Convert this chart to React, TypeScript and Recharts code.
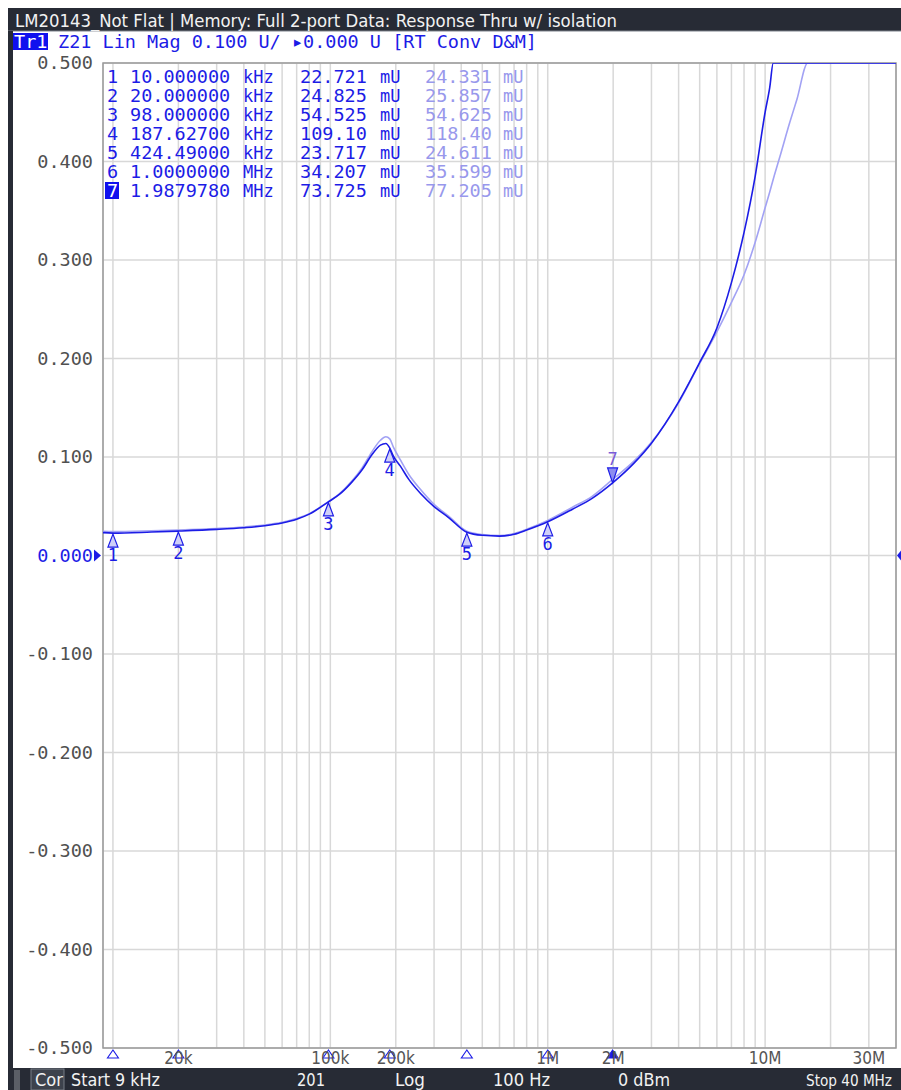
import React from "react";
import {
  ComposedChart, Line, XAxis, YAxis, CartesianGrid, ReferenceDot, ReferenceArea
} from "recharts";

// sweep points (Hz / U)
const freqHz = [
  9e3, 10e3, 15e3, 20e3, 30e3, 40e3, 50e3, 60e3, 70e3, 80e3,
  98e3, 110e3, 125e3, 140e3, 155e3, 170e3, 180e3, 187.627e3, 195e3, 210e3,
  230e3, 260e3, 300e3, 350e3, 424.49e3, 500e3, 600e3, 700e3, 800e3, 1e6,
  1.3e6, 1.6e6, 1.988e6, 2.5e6, 3e6, 4e6, 5e6, 6e6, 7e6, 8e6,
  9e6, 10e6, 10.5e6, 10.9e6, 11.7e6, 13e6, 14e6, 15.7e6, 20e6, 30e6, 40e6,
];
const dataU = [
  0.0232, 0.0227, 0.0238, 0.0248, 0.0265, 0.0282, 0.0302, 0.033, 0.0368, 0.042,
  0.0545, 0.062, 0.074, 0.087, 0.102, 0.112, 0.1137, 0.1091, 0.1008, 0.0907,
  0.077, 0.063, 0.0497, 0.0385, 0.0237, 0.0205, 0.0197, 0.0215, 0.0258, 0.0342,
  0.047, 0.058, 0.0737, 0.094, 0.114, 0.156, 0.196, 0.231, 0.277, 0.328,
  0.385, 0.45, 0.475, 0.5, 0.5, 0.5, 0.5, 0.5, 0.5, 0.5, 0.5,
];
const memU = [
  0.0246, 0.0243, 0.0251, 0.0259, 0.0274, 0.029, 0.031, 0.0338, 0.0375, 0.0425,
  0.0546, 0.0625, 0.075, 0.089, 0.105, 0.117, 0.1205, 0.1184, 0.11, 0.097,
  0.082, 0.067, 0.052, 0.04, 0.0246, 0.0213, 0.0203, 0.0222, 0.0266, 0.0356,
  0.049, 0.06, 0.0772, 0.096, 0.115, 0.155, 0.195, 0.227, 0.257, 0.285,
  0.318, 0.353, 0.369, 0.382, 0.405, 0.44, 0.463, 0.5, 0.5, 0.5, 0.5,
];

// markers
const markerFreq = [10e3, 20e3, 98e3, 187.627e3, 424.49e3, 1e6, 1.987978e6];
const markerData = [0.022721, 0.024825, 0.054525, 0.1091, 0.023717, 0.034207, 0.073725];
const markerMem = [0.024331, 0.025857, 0.054625, 0.1184, 0.024611, 0.035599, 0.077205];
const markerFreqText = ["10.000000", "20.000000", "98.000000", "187.62700", "424.49000", "1.0000000", "1.9879780"];
const markerFreqUnit = ["kHz", "kHz", "kHz", "kHz", "kHz", "MHz", "MHz"];
const activeMarker = 7;

// axes
const gridFreqs = [
  1e4, 2e4, 3e4, 4e4, 5e4, 6e4, 7e4, 8e4, 9e4,
  1e5, 2e5, 3e5, 4e5, 5e5, 6e5, 7e5, 8e5, 9e5,
  1e6, 2e6, 3e6, 4e6, 5e6, 6e6, 7e6, 8e6, 9e6,
  1e7, 2e7, 3e7, 4e7,
];
const xLabelFreqs = [2e4, 1e5, 2e5, 1e6, 2e6, 1e7, 3e7];
const xLabelText = ["20k", "100k", "200k", "1M", "2M", "10M", "30M"];
const yTicks = [-0.5, -0.4, -0.3, -0.2, -0.1, 0, 0.1, 0.2, 0.3, 0.4, 0.5];

const rows = freqHz.map((f, i) => ({ f, data: dataU[i], mem: memU[i] }));

const MONO = "'DejaVu Sans Mono', monospace";
const NARROW = "'Liberation Sans Narrow', 'DejaVu Sans Condensed', sans-serif";
const DARK = "#272b35";
const BLUE = "#1c1ce6";
const LIGHT = "#a2a2f4";

const XTick = (props: any) => {
  const { x, payload } = props;
  const idx = xLabelFreqs.findIndex((v) => Math.abs(v - payload.value) / v < 1e-6);
  if (idx < 0) return <g />;
  return (
    <text x={x} y={1064} textAnchor="middle" fill="#555" fontSize={17} fontFamily={NARROW}>
      {xLabelText[idx]}
    </text>
  );
};

const YTick = (props: any) => {
  const { y, payload } = props;
  const v = payload.value;
  const label = (v < -1e-9 ? "-" : "") + Math.abs(v).toFixed(3);
  return (
    <text x={93} y={y + 6} textAnchor="end" fill={Math.abs(v) < 1e-9 ? BLUE : "#505050"}
      fontSize={18.5} fontFamily={MONO}>
      {label}
    </text>
  );
};

const markerShape = (n: number) => (props: any) => {
  const { cx, cy } = props;
  if (n === activeMarker) {
    return (
      <g>
        <polygon points={`${cx},${cy} ${cx - 5},${cy - 15} ${cx + 5},${cy - 15}`}
          fill="#8c8cf0" stroke={BLUE} strokeWidth={1.2} />
        <text x={cx} y={cy - 18} textAnchor="middle" fill="#7a5cd8" fontSize={17} fontFamily={MONO}>{n}</text>
      </g>
    );
  }
  return (
    <g>
      <polygon points={`${cx},${cy + 1} ${cx - 5},${cy + 14} ${cx + 5},${cy + 14}`}
        fill="#cfcff8" stroke={BLUE} strokeWidth={1.2} />
      <text x={cx} y={cy + 28} textAnchor="middle" fill={BLUE} fontSize={17} fontFamily={MONO}>{n}</text>
    </g>
  );
};

const axisMarkShape = (n: number) => (props: any) => {
  const { cx, cy } = props;
  const active = n === activeMarker;
  return (
    <polygon points={`${cx},${cy + 2} ${cx - 5.5},${cy + 10} ${cx + 5.5},${cy + 10}`}
      fill={active ? BLUE : "#fff"} stroke={BLUE} strokeWidth={1.1} />
  );
};

const leftRef = (props: any) => {
  const { cx, cy } = props;
  return <polygon points={`${cx - 9},${cy - 6} ${cx - 9},${cy + 6} ${cx - 2},${cy}`} fill={BLUE} />;
};
const rightRef = (props: any) => {
  const { cx, cy } = props;
  return <polygon points={`${cx + 5},${cy - 5} ${cx + 5},${cy + 5} ${cx + 1},${cy}`} fill={BLUE} />;
};

const tableCols = [107, 130, 243, 300, 380, 425, 503];

export default function App() {
  return (
    <div style={{ position: "absolute", left: 0, top: 0, width: 901, height: 1090, background: "#fff", overflow: "hidden" }}>
      <ComposedChart width={901} height={1090} data={rows} margin={{ top: 63, right: 5, bottom: 22, left: 13 }}>
        <CartesianGrid stroke="#d8d8d8" strokeWidth={1.5} />
        <XAxis dataKey="f" type="number" scale="log" domain={[9000, 40000000]} ticks={gridFreqs}
          interval={0} allowDataOverflow axisLine={false} tickLine={false} height={20} tick={<XTick />} />
        <YAxis type="number" domain={[-0.5, 0.5]} ticks={yTicks} interval={0} allowDataOverflow
          axisLine={false} tickLine={false} width={90} tick={<YTick />} />
        <ReferenceArea x1={9000} x2={40000000} y1={-0.5} y2={0.5} fill="none" fillOpacity={0}
          stroke="#9a9a9a" strokeWidth={1.5} />
        <Line dataKey="mem" type="monotone" stroke={LIGHT} strokeWidth={1.6} dot={false} isAnimationActive={false} />
        <Line dataKey="data" type="monotone" stroke={BLUE} strokeWidth={1.6} dot={false} isAnimationActive={false} />
        {markerFreq.map((f, i) => (
          <ReferenceDot key={"m" + i} x={f} y={markerData[i]} ifOverflow="visible" shape={markerShape(i + 1)} />
        ))}
        {markerFreq.map((f, i) => (
          <ReferenceDot key={"a" + i} x={f} y={-0.5} ifOverflow="visible" shape={axisMarkShape(i + 1)} />
        ))}
        <ReferenceDot x={9000} y={0} ifOverflow="visible" shape={leftRef} />
        <ReferenceDot x={40000000} y={0} ifOverflow="visible" shape={rightRef} />
      </ComposedChart>

      <svg width={901} height={1090} style={{ position: "absolute", left: 0, top: 0, pointerEvents: "none" }}>
        {/* window title */}
        <rect x={8} y={8} width={893} height={23} fill={DARK} />
        <line x1={8} y1={31} x2={901} y2={31} stroke="#7d828b" strokeWidth={1} />
        <text x={15} y={27} fill="#f2f2f2" fontSize={18} fontFamily={NARROW} textLength={602} lengthAdjust="spacingAndGlyphs">
          LM20143_Not Flat | Memory: Full 2-port Data: Response Thru w/ isolation
        </text>
        <rect x={8} y={31} width={5} height={1037} fill={DARK} />

        {/* trace header */}
        <rect x={13} y={33} width={35} height={17} fill="#1010ee" />
        <text x={14} y={48} fill="#fff" fontSize={18.5} fontFamily={MONO}>Tr1</text>
        <text x={58} y={48} fill={BLUE} fontSize={18.5} fontFamily={MONO}>
          Z21 Lin Mag 0.100 U/ ▸0.000 U [RT Conv D&amp;M]
        </text>

        {/* marker table */}
        {markerFreq.map((f, i) => {
          const y = 83 + i * 19;
          const n = i + 1;
          const active = n === activeMarker;
          return (
            <g key={i} fontFamily={MONO} fontSize={18.5}>
              {active && <rect x={105} y={y - 15} width={14} height={17} fill="#1010ee" />}
              <text x={tableCols[0]} y={y} fill={active ? "#fff" : BLUE}>{n}</text>
              <text x={tableCols[1]} y={y} fill={BLUE}>{markerFreqText[i]}</text>
              <text x={tableCols[2]} y={y} fill={BLUE} fontSize={17}>{markerFreqUnit[i]}</text>
              <text x={tableCols[3]} y={y} fill={BLUE}>{(markerData[i] * 1000).toPrecision(5)}</text>
              <text x={tableCols[4]} y={y} fill={BLUE} fontSize={17}>mU</text>
              <text x={tableCols[5]} y={y} fill="#9898ec">{(markerMem[i] * 1000).toPrecision(5)}</text>
              <text x={tableCols[6]} y={y} fill="#9898ec" fontSize={17}>mU</text>
            </g>
          );
        })}

        {/* status bar */}
        <rect x={8} y={1068} width={893} height={22} fill={DARK} />
        <rect x={14} y={1070} width={6} height={20} fill="#5a5e66" />
        <rect x={31} y={1069} width={33} height={21} fill="#3d424c" stroke="#777c85" strokeWidth={1} />
        <g fill="#f2f2f2" fontSize={18} fontFamily={NARROW}>
          <text x={35} y={1086}>Cor</text>
          <text x={71} y={1086} textLength={89} lengthAdjust="spacingAndGlyphs">Start 9 kHz</text>
          <text x={297} y={1086} textLength={28} lengthAdjust="spacingAndGlyphs">201</text>
          <text x={395} y={1086} textLength={30} lengthAdjust="spacingAndGlyphs">Log</text>
          <text x={493} y={1086} textLength={57} lengthAdjust="spacingAndGlyphs">100 Hz</text>
          <text x={618} y={1086} textLength={52} lengthAdjust="spacingAndGlyphs">0 dBm</text>
          <text x={806} y={1086} fontSize={16} textLength={86} lengthAdjust="spacingAndGlyphs">Stop 40 MHz</text>
        </g>
      </svg>
    </div>
  );
}
